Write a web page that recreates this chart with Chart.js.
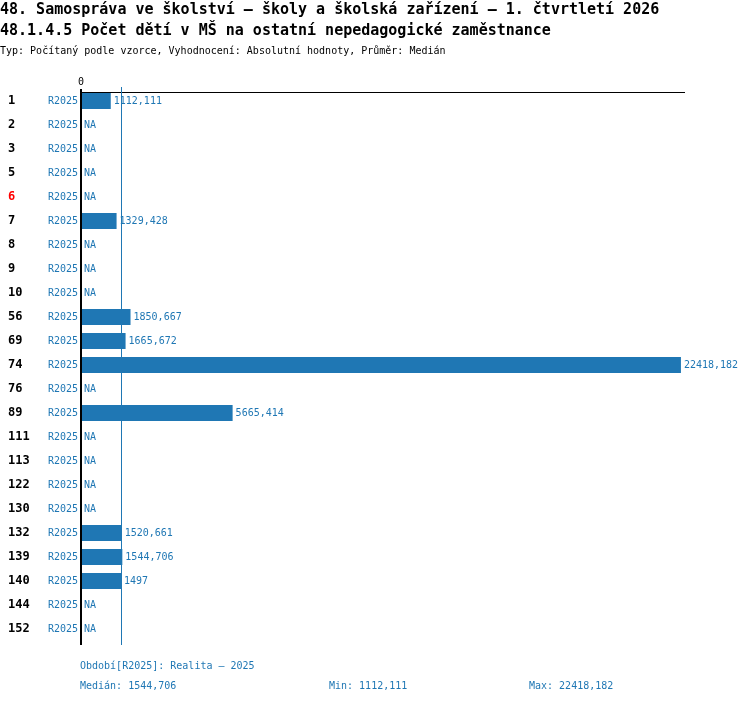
<!DOCTYPE html>
<html>
<head>
<meta charset="utf-8">
<script src="https://cdn.jsdelivr.net/npm/chart.js@4"></script>
<style>
  html, body { margin: 0; padding: 0; background: #fff; }
  #wrap { width: 750px; height: 704px; }
</style>
</head>
<body>
<div id="wrap"><canvas id="chart" width="750" height="704"></canvas></div>
<script>
var titleLines = [
    '48. Samospráva ve školství – školy a školská zařízení – 1. čtvrtletí 2026',
    '48.1.4.5 Počet dětí v MŠ na ostatní nepedagogické zaměstnance'
];
var subtitle = 'Typ: Počítaný podle vzorce, Vyhodnocení: Absolutní hodnoty, Průměr: Medián';
var periodName = 'R2025';
var periodNote = 'Období[R2025]: Realita – 2025';

var categories = ['1', '2', '3', '5', '6', '7', '8', '9', '10', '56', '69', '74', '76', '89',
    '111', '113', '122', '130', '132', '139', '140', '144', '152'];
var values = [1112.111, null, null, null, null, 1329.428, null, null, null, 1850.667, 1665.672,
    22418.182, null, 5665.414, null, null, null, null, 1520.661, 1544.706, 1497, null, null];
var highlighted = ['6'];

var blue = '#1f77b4';
var mono = '"DejaVu Sans Mono", "Liberation Mono", monospace';

function fmt(v) {
    return String(Math.round(v * 1000) / 1000).replace('.', ',');
}

var known = values.filter(function (v) { return v !== null; }).sort(function (a, b) { return a - b; });
var median = known.length % 2 ? known[(known.length - 1) / 2]
    : (known[known.length / 2 - 1] + known[known.length / 2]) / 2;
var minVal = known[0];
var maxVal = known[known.length - 1];

var extras = {
    id: 'extras',
    afterDatasetsDraw: function (chart) {
        var ctx = chart.ctx;
        var x = chart.scales.x, y = chart.scales.y;
        var area = chart.chartArea;
        var zero = x.getPixelForValue(0);
        ctx.save();

        // titles
        ctx.fillStyle = '#000';
        ctx.textBaseline = 'alphabetic';
        ctx.textAlign = 'left';
        ctx.font = 'bold 15px ' + mono;
        ctx.fillText(titleLines[0], 0, 14);
        ctx.fillText(titleLines[1], 0, 35);
        ctx.font = '10px ' + mono;
        ctx.fillText(subtitle, 0, 54);

        // zero label + top line
        ctx.textAlign = 'center';
        ctx.fillText('0', zero, 85);
        ctx.fillRect(zero - 1, area.top + 3, area.right - zero + 1, 1);

        // median line
        var mx = Math.floor(x.getPixelForValue(median)) - 0.5;
        ctx.strokeStyle = blue;
        ctx.lineWidth = 1;
        ctx.beginPath();
        ctx.moveTo(mx, area.top - 2);
        ctx.lineTo(mx, area.bottom + 4);
        ctx.stroke();

        // zero line
        ctx.fillStyle = '#000';
        ctx.fillRect(zero - 1, area.top, 2, area.bottom - area.top + 4);

        // row labels
        ctx.font = '10px ' + mono;
        ctx.fillStyle = blue;
        ctx.textBaseline = 'middle';
        categories.forEach(function (c, i) {
            var py = y.getPixelForValue(i);
            ctx.textAlign = 'right';
            ctx.fillText(periodName, zero - 3, py);
            ctx.textAlign = 'left';
            var v = values[i];
            if (v === null) {
                ctx.fillText('NA', zero + 3, py);
            } else {
                ctx.fillText(fmt(v), x.getPixelForValue(v) + 3, py);
            }
        });

        // footer
        ctx.textAlign = 'left';
        ctx.fillText(periodNote, zero - 1, 666);
        ctx.fillText('Medián: ' + fmt(median), zero - 1, 686);
        ctx.fillText('Min: ' + fmt(minVal), 329, 686);
        ctx.fillText('Max: ' + fmt(maxVal), 529, 686);
        ctx.restore();
    }
};

new Chart(document.getElementById('chart').getContext('2d'), {
    type: 'bar',
    data: {
        labels: categories,
        datasets: [{
            data: values,
            backgroundColor: blue,
            borderWidth: 0,
            barPercentage: 0.667,
            categoryPercentage: 1
        }]
    },
    options: {
        indexAxis: 'y',
        responsive: false,
        animation: false,
        devicePixelRatio: 1,
        layout: { padding: { top: 89, bottom: 63, left: 8, right: 65 } },
        plugins: {
            legend: { display: false },
            tooltip: { enabled: false }
        },
        scales: {
            x: {
                display: false,
                min: 0,
                max: 22570
            },
            y: {
                grid: { display: false },
                border: { display: false },
                afterFit: function (scale) { scale.width = 73; },
                ticks: {
                    crossAlign: 'far',
                    padding: 0,
                    font: { family: mono, size: 12, weight: 'bold' },
                    color: function (c) {
                        return highlighted.indexOf(categories[c.index]) >= 0 ? '#ff0000' : '#000';
                    }
                }
            }
        }
    },
    plugins: [extras]
});
</script>
</body>
</html>
